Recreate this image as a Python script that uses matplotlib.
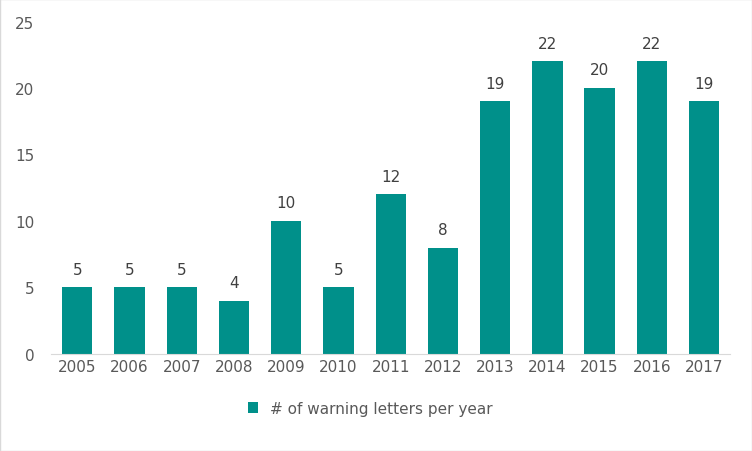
import matplotlib
matplotlib.use("Agg")
import matplotlib.pyplot as plt

years = ["2005","2006","2007","2008","2009","2010","2011","2012","2013","2014","2015","2016","2017"]
letters = [5,5,5,4,10,5,12,8,19,22,20,22,19]
yticks = [0,5,10,15,20,25]

fig = plt.figure(figsize=(7.52,4.52), dpi=100)
fig.patch.set_facecolor("white")
ax = fig.add_axes([0.068, 0.215, 0.903, 0.735])
x = range(len(years))
ax.bar(x, letters, width=0.58, color="#00908A", label="# of warning letters per year")
for xi, v in zip(x, letters):
    ax.text(xi, v + 0.8, str(v), ha="center", va="bottom", fontsize=11, color="#404040")
ax.set_xticks(list(x))
ax.set_xticklabels(years, fontsize=11, color="#595959")
ax.set_yticks(yticks)
ax.set_yticklabels([str(t) for t in yticks], fontsize=11, color="#595959")
ax.set_ylim(0, 25)
ax.set_xlim(-0.5, len(years)-0.5)
for s in ["top","right","left"]:
    ax.spines[s].set_visible(False)
ax.spines["bottom"].set_color("#D9D9D9")
ax.tick_params(length=0)
ax.tick_params(axis="y", pad=12)
ax.legend(loc="upper center", bbox_to_anchor=(0.47, -0.1), frameon=False, fontsize=11,
          handlelength=0.7, handleheight=0.7, labelcolor="#595959")
fig.add_artist(plt.Rectangle((0,0),1,1, transform=fig.transFigure, fill=False, edgecolor="#D9D9D9", lw=1))
fig.savefig("out.png", dpi=100)
